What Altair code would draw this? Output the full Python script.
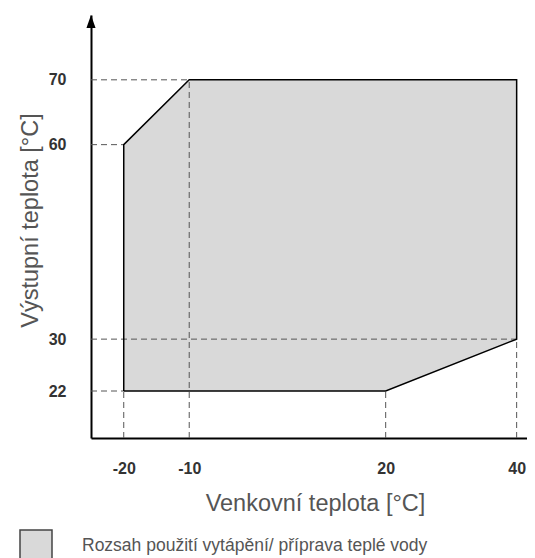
import altair as alt
import pandas as pd

# axis extents and ticks
x_min, x_max = -25, 41.58
y_min, y_max = 14.75, 80
x_ticks = [-20, -10, 20, 40]
y_ticks = [22, 30, 60, 70]

# operating envelope
outline_x = [-20, -20, -10, 40, 40, 20, -20]
outline_y = [22, 60, 70, 70, 30, 22, 22]

area_x = [-20, -10, 20, 40]
area_top = [60, 70, 70, 70]
area_bottom = [22, 22, 22, 30]

# dashed guide lines
hguide_y = [70, 60, 30, 22]
hguide_x_end = [-10, -20, 40, -20]
vguide_x = [-20, -10, 20, 40]
vguide_y_end = [22, 70, 22, 30]

legend_label = "Rozsah použití vytápění/ příprava teplé vody"
x_title = "Venkovní teplota [°C]"
y_title = "Výstupní teplota [°C]"

FONT = "Liberation Sans"

xscale = alt.Scale(domain=[x_min, x_max], nice=False, zero=False)
yscale = alt.Scale(domain=[y_min, y_max], nice=False, zero=False)

xaxis = alt.Axis(values=x_ticks, title=x_title, grid=False, ticks=False,
                 domainColor="black", domainWidth=2,
                 labelExpr="'' + datum.value",
                 labelFont=FONT, labelFontWeight="bold", labelFontSize=16,
                 labelColor="#333333", labelPadding=22,
                 titleFont=FONT, titleFontSize=23.5, titleFontWeight="normal",
                 titleColor="#555555", titleX=224, titleY=65,
                 titleBaseline="middle", titleAlign="center")
yaxis = alt.Axis(values=y_ticks, title=y_title, grid=False, ticks=False,
                 domainColor="black", domainWidth=2,
                 labelExpr="'' + datum.value",
                 labelFont=FONT, labelFontWeight="bold", labelFontSize=16,
                 labelColor="#333333", labelPadding=25,
                 titleFont=FONT, titleFontSize=23.5, titleFontWeight="normal",
                 titleColor="#555555", titleX=-61, titleY=205, titleAngle=-90,
                 titleBaseline="middle", titleAlign="center")

area_df = pd.DataFrame({"x": area_x, "top": area_top, "bottom": area_bottom,
                        "label": [legend_label] * len(area_x)})
outline_df = pd.DataFrame({"x": outline_x, "y": outline_y,
                           "o": list(range(len(outline_x)))})
h_df = pd.DataFrame({"y": hguide_y, "x0": [x_min] * len(hguide_y), "x1": hguide_x_end})
v_df = pd.DataFrame({"x": vguide_x, "y0": [y_min] * len(vguide_x), "y1": vguide_y_end})
arrow_df = pd.DataFrame({"x": [x_min], "y": [y_max]})

area = alt.Chart(area_df).mark_area(opacity=1, line=False).encode(
    x=alt.X("x:Q", scale=xscale, axis=xaxis),
    y=alt.Y("top:Q", scale=yscale, axis=yaxis),
    y2="bottom:Q",
    color=alt.Color("label:N", scale=alt.Scale(range=["#d9d9d9"]),
                    legend=alt.Legend(title=None, orient="none", legendX=-72, legendY=514,
                                      symbolType="square", symbolSize=1024,
                                      symbolStrokeColor="#444444", symbolStrokeWidth=1.5,
                                      symbolFillColor="#d9d9d9", symbolOpacity=1,
                                      labelFont=FONT, labelFontSize=17.5, labelColor="#555555",
                                      labelOffset=29, padding=0, labelLimit=500)),
)

hguides = alt.Chart(h_df).mark_rule(color="#555555", strokeWidth=1, strokeDash=[6, 4]).encode(
    x=alt.X("x0:Q", scale=xscale, axis=xaxis),
    x2="x1:Q",
    y=alt.Y("y:Q", scale=yscale, axis=yaxis),
)
vguides = alt.Chart(v_df).mark_rule(color="#555555", strokeWidth=1, strokeDash=[6, 4]).encode(
    x=alt.X("x:Q", scale=xscale, axis=xaxis),
    y=alt.Y("y0:Q", scale=yscale, axis=yaxis),
    y2="y1:Q",
)
outline = alt.Chart(outline_df).mark_line(color="black", strokeWidth=1.5).encode(
    x=alt.X("x:Q", scale=xscale, axis=xaxis),
    y=alt.Y("y:Q", scale=yscale, axis=yaxis),
    order="o:Q",
)
arrow = alt.Chart(arrow_df).mark_point(
    shape="M0,0L0.7,2L-0.7,2Z", filled=True, color="black", opacity=1, size=169
).encode(
    x=alt.X("x:Q", scale=xscale, axis=xaxis),
    y=alt.Y("y:Q", scale=yscale, axis=yaxis),
)

chart = alt.layer(area, hguides, vguides, outline, arrow).properties(
    width=436, height=423,
    padding={"left": 83, "top": 7, "right": 0, "bottom": 120},
    autosize="none",
).configure_view(stroke=None)

chart.save("out.html", embed_options={"renderer": "svg", "actions": False})
